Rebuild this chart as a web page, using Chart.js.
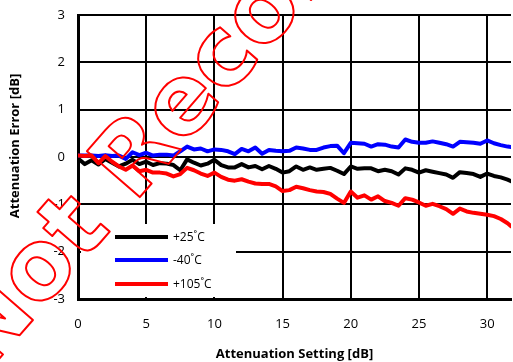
<!DOCTYPE html>
<html>
<head>
<meta charset="utf-8">
<script src="https://cdn.jsdelivr.net/npm/chart.js@4"></script>
<style>
  html, body { margin: 0; padding: 0; background: #fff; }
  #wrap { width: 513px; height: 362px; }
</style>
</head>
<body>
<div id="wrap"><canvas id="c" width="513" height="362"></canvas></div>
<script>
// attenuation setting (dB)
var XS = [0, 0.5, 1, 1.5, 2, 2.5, 3, 3.5, 4, 4.5, 5, 5.5, 6, 6.5, 7, 7.5,
          8, 8.5, 9, 9.5, 10, 10.5, 11, 11.5, 12, 12.5, 13, 13.5, 14, 14.5, 15, 15.5,
          16, 16.5, 17, 17.5, 18, 18.5, 19, 19.5, 20, 20.5, 21, 21.5, 22, 22.5, 23, 23.5,
          24, 24.5, 25, 25.5, 26, 26.5, 27, 27.5, 28, 28.5, 29, 29.5, 30, 30.5, 31, 31.5, 31.75];

// attenuation error (dB) per temperature
var T25 = [-0.03, -0.15, -0.07, -0.16, -0.04, -0.12, -0.20, -0.14, -0.06, -0.15, -0.10, -0.17, -0.13, -0.14, -0.17, -0.28,
           -0.05, -0.12, -0.18, -0.14, -0.06, -0.17, -0.22, -0.22, -0.15, -0.22, -0.19, -0.26, -0.19, -0.25, -0.33, -0.30,
           -0.20, -0.27, -0.22, -0.27, -0.25, -0.23, -0.29, -0.36, -0.20, -0.25, -0.24, -0.24, -0.30, -0.27, -0.30, -0.37,
           -0.24, -0.27, -0.33, -0.28, -0.31, -0.34, -0.37, -0.44, -0.32, -0.34, -0.36, -0.42, -0.35, -0.40, -0.43, -0.48, -0.51];

var TM40 = [0.03, 0.03, 0.03, 0.02, 0.04, 0.02, 0.03, -0.04, 0.10, 0.04, 0.09, 0.03, 0.05, 0.05, 0.03, 0.12,
            0.22, 0.16, 0.18, 0.12, 0.16, 0.15, 0.12, 0.06, 0.17, 0.12, 0.20, 0.07, 0.15, 0.13, 0.12, 0.13,
            0.20, 0.18, 0.15, 0.15, 0.20, 0.23, 0.24, 0.08, 0.30, 0.29, 0.28, 0.22, 0.27, 0.26, 0.22, 0.20,
            0.37, 0.32, 0.30, 0.30, 0.33, 0.30, 0.27, 0.22, 0.32, 0.31, 0.30, 0.28, 0.35, 0.29, 0.25, 0.22, 0.21];

var T105 = [0.03, 0.02, 0.03, -0.13, 0.02, -0.10, -0.20, -0.27, -0.18, -0.30, -0.27, -0.33, -0.33, -0.35, -0.41, -0.36,
            -0.23, -0.28, -0.35, -0.40, -0.33, -0.42, -0.48, -0.50, -0.47, -0.52, -0.56, -0.57, -0.57, -0.62, -0.72, -0.70,
            -0.63, -0.66, -0.70, -0.73, -0.74, -0.78, -0.88, -0.97, -0.73, -0.86, -0.81, -0.90, -0.83, -0.93, -0.97, -1.03,
            -0.87, -0.90, -0.96, -1.03, -0.99, -1.04, -1.10, -1.20, -1.09, -1.15, -1.18, -1.20, -1.22, -1.25, -1.31, -1.40, -1.46];

var LABELS = ['+25˚C', '-40˚C', '+105˚C'];
var COLOURS = ['#000000', '#0000ff', '#ff0000'];
var X_TICKS = [0, 5, 10, 15, 20, 25, 30];
var Y_TITLE = 'Attenuation Error [dB]';
var WATERMARK = 'Not Recommended';

function pts(ys) {
    return XS.map(function (x, i) { return { x: x, y: ys[i] }; });
}

var FONT = "'Open Sans', 'Liberation Sans', sans-serif";

// legend box sitting inside the plot, lower left
var insideLegend = {
    id: 'insideLegend',
    afterDatasetsDraw: function (chart) {
        var ctx = chart.ctx;
        ctx.save();
        ctx.fillStyle = '#fff';
        ctx.fillRect(81, 224, 155, 73);
        var rows = [237, 260, 284];
        chart.data.datasets.forEach(function (ds) {
            var k = LABELS.indexOf(ds.label);
            ctx.strokeStyle = ds.borderColor;
            ctx.lineWidth = 4;
            ctx.beginPath();
            ctx.moveTo(115, rows[k]);
            ctx.lineTo(168, rows[k]);
            ctx.stroke();
            ctx.fillStyle = '#000';
            ctx.font = '12px ' + FONT;
            ctx.textBaseline = 'middle';
            ctx.fillText(ds.label, 173, rows[k] + 1);
        });
        ctx.restore();
    }
};

// y title sits a little above the plot's middle in the original
var yTitle = {
    id: 'yTitle',
    afterDraw: function (chart) {
        var ctx = chart.ctx;
        ctx.save();
        ctx.translate(15, 146);
        ctx.rotate(-Math.PI / 2);
        ctx.font = 'bold 13px ' + FONT;
        ctx.fillStyle = '#000';
        ctx.textAlign = 'center';
        ctx.textBaseline = 'middle';
        ctx.fillText(Y_TITLE, 0, 0);
        ctx.restore();
    }
};

// red outlined stamp across the left part of the picture
var watermark = {
    id: 'watermark',
    afterDraw: function (chart) {
        var ctx = chart.ctx;
        ctx.save();
        ctx.translate(-14, 374);
        ctx.rotate(-49 * Math.PI / 180);
        ctx.font = "bold 96px 'DejaVu Sans', sans-serif";
        ctx.lineJoin = 'round';
        ctx.lineWidth = 2;
        ctx.strokeStyle = '#ff0000';
        ctx.textBaseline = 'alphabetic';
        ctx.strokeText(WATERMARK, 0, 0);
        ctx.restore();
    }
};

new Chart(document.getElementById('c').getContext('2d'), {
    type: 'line',
    data: {
        datasets: [
            { label: LABELS[0], data: pts(T25),  borderColor: COLOURS[0], order: 2 },
            { label: LABELS[1], data: pts(TM40), borderColor: COLOURS[1], order: 1 },
            { label: LABELS[2], data: pts(T105), borderColor: COLOURS[2], order: 0 }
        ]
    },
    options: {
        responsive: false,
        animation: false,
        devicePixelRatio: 1,
        layout: { padding: { top: 15, right: 2, left: 0, bottom: 0 } },
        elements: {
            line: { borderWidth: 4, tension: 0, borderCapStyle: 'round', borderJoinStyle: 'round' },
            point: { radius: 0 }
        },
        plugins: {
            legend: { display: false },
            tooltip: { enabled: false }
        },
        scales: {
            x: {
                type: 'linear',
                min: 0, max: 31.75,
                afterBuildTicks: function (s) {
                    s.ticks = X_TICKS.map(function (v) { return { value: v }; });
                },
                afterFit: function (s) {
                    s.height = 63;
                    s.paddingLeft = 0; s.paddingRight = 0;
                },
                grid: { color: '#000', lineWidth: 2, drawTicks: false },
                border: { color: '#000', width: 3 },
                ticks: { color: '#000', padding: 17, maxRotation: 0,
                         font: { family: FONT, size: 13 } },
                title: { display: true, text: 'Attenuation Setting [dB]', color: '#000',
                         padding: { top: 2, bottom: 0 },
                         font: { family: FONT, size: 13, weight: 'bold' } }
            },
            y: {
                min: -3, max: 3,
                ticks: { stepSize: 1, color: '#000', padding: 13,
                         font: { family: FONT, size: 13 } },
                afterFit: function (s) {
                    s.width = 78;
                    s.paddingTop = 0; s.paddingBottom = 0;
                },
                grid: { color: '#000', lineWidth: 2, drawTicks: false },
                border: { color: '#000', width: 3 }
            }
        }
    },
    plugins: [insideLegend, yTitle, watermark]
});
</script>
</body>
</html>
